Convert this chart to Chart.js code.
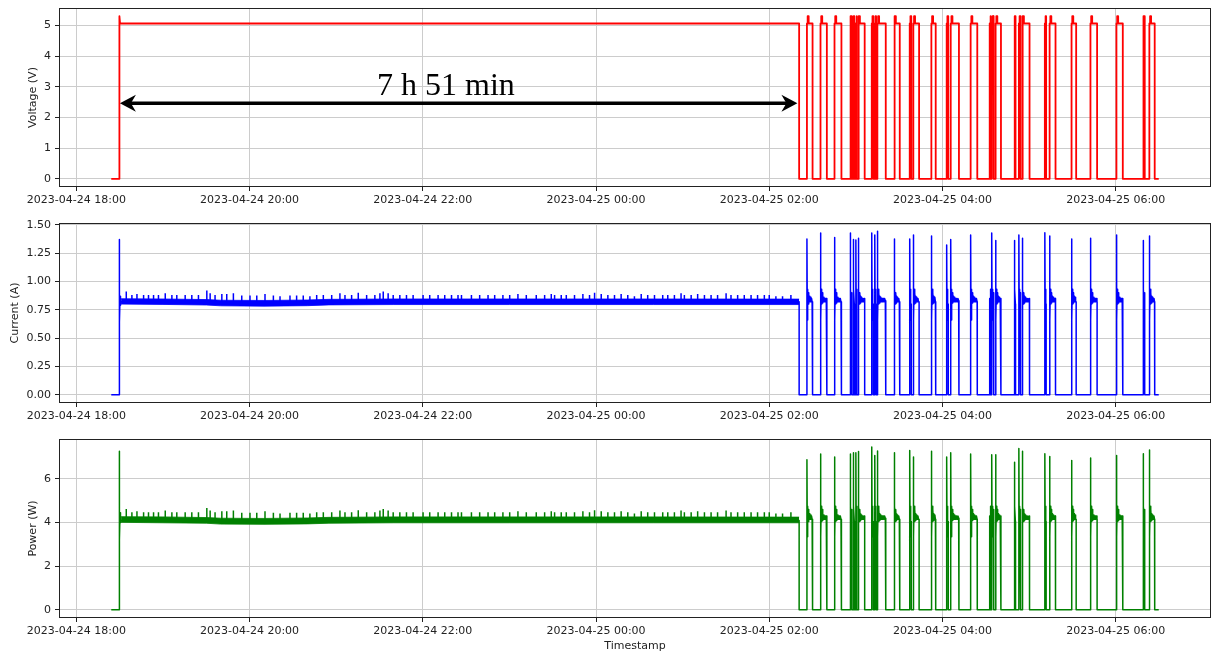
<!DOCTYPE html>
<html>
<head>
<meta charset="utf-8">
<script src="https://cdn.jsdelivr.net/npm/chart.js@4.4.0/dist/chart.umd.min.js"></script>
<style>
  html, body { margin: 0; padding: 0; background: #fff; }
  #wrap { position: relative; width: 1213px; height: 654px; overflow: hidden; }
  .panel { position: absolute; left: 0; width: 1213px; }
</style>
</head>
<body>
<div id="wrap">
  <div class="panel" style="top:0;height:210px"><canvas id="chartV"></canvas></div>
  <div class="panel" style="top:215px;height:210px"><canvas id="chartI"></canvas></div>
  <div class="panel" style="top:431px;height:223px"><canvas id="chartP"></canvas></div>
</div>
<script>
// x values are minutes after 2023-04-24 18:00
const tickMinutes = [0, 120, 240, 360, 480, 600, 720];
const tickLabels = ["2023-04-24 18:00", "2023-04-24 20:00", "2023-04-24 22:00",
  "2023-04-25 00:00", "2023-04-25 02:00", "2023-04-25 04:00", "2023-04-25 06:00"];

// switch-on at 18:30
const startupT = [24.2, 29.7, 29.7, 30.0, 30.3, 30.6, 31.0];
const startupV = [0, 0, 5.3, 5.3, 5.06, 5.06, 5.06];
const startupI = [0, 0, 1.37, 0.64, 0.87, 0.79, 0.82];
const startupP = [0, 0, 7.27, 3.22, 4.45, 4.0, 4.1];
const plateauEnd = 500.7; // 02:21
const logEnd = 749.8;

// noise band over the long plateau
const bandT   = [31, 60, 90, 100, 130, 160, 175, 220, 300, 400, 500.7];
const bandILo = [0.80, 0.797, 0.792, 0.785, 0.782, 0.786, 0.793, 0.796, 0.796, 0.796, 0.796];
const bandIHi = [0.847, 0.845, 0.84, 0.834, 0.832, 0.836, 0.842, 0.845, 0.845, 0.845, 0.844];
const bandPLo = [4.01, 3.99, 3.97, 3.93, 3.92, 3.94, 3.97, 3.99, 3.99, 3.99, 3.99];
const bandPHi = [4.27, 4.26, 4.23, 4.2, 4.19, 4.21, 4.24, 4.26, 4.26, 4.26, 4.25];

// small spikes on top of the plateau
const spikeT = [34.6, 38.5, 42.0, 46.6, 50.0, 53.5, 56.9, 61.6, 66.2, 69.6,
  75.4, 80.0, 84.6, 90.4, 92.7, 96.1, 100.8, 104.2, 108.8, 114.6,
  120.3, 125.0, 130.7, 136.5, 141.1, 148.0, 152.6, 157.2, 161.8, 166.5,
  171.1, 176.9, 182.6, 186.1, 190.7, 195.3, 201.1, 206.8, 210.3, 212.6,
  216.0, 219.5, 224.1, 228.7, 233.3, 240.2, 244.8, 250.6, 255.2, 259.9,
  264.4, 266.8, 273.7, 279.4, 285.2, 289.8, 295.5, 300.2, 305.9, 311.7,
  318.6, 324.4, 329.0, 331.3, 335.9, 339.4, 345.1, 350.9, 355.5, 359.0,
  363.6, 368.2, 372.8, 377.4, 382.0, 386.6, 391.3, 395.8, 400.5, 406.2,
  409.7, 414.3, 418.9, 421.2, 425.9, 430.4, 435.1, 439.7, 444.2, 450.1,
  453.5, 458.1, 462.7, 467.4, 471.9, 476.6, 480.0, 484.6, 489.2, 495.0];
const spikeI = [0.91, 0.88, 0.89, 0.88, 0.88, 0.88, 0.88, 0.895, 0.88, 0.88,
  0.88, 0.88, 0.88, 0.92, 0.895, 0.88, 0.89, 0.89, 0.895, 0.875,
  0.875, 0.875, 0.89, 0.875, 0.87, 0.875, 0.875, 0.875, 0.87, 0.88,
  0.88, 0.88, 0.895, 0.88, 0.88, 0.90, 0.88, 0.88, 0.895, 0.91,
  0.895, 0.88, 0.88, 0.88, 0.88, 0.88, 0.88, 0.88, 0.88, 0.88,
  0.88, 0.88, 0.88, 0.88, 0.88, 0.88, 0.88, 0.88, 0.89, 0.88,
  0.88, 0.88, 0.89, 0.88, 0.88, 0.88, 0.88, 0.89, 0.88, 0.90,
  0.89, 0.88, 0.88, 0.89, 0.88, 0.87, 0.89, 0.88, 0.88, 0.88,
  0.88, 0.88, 0.895, 0.88, 0.88, 0.89, 0.88, 0.88, 0.88, 0.895,
  0.88, 0.88, 0.88, 0.88, 0.88, 0.88, 0.88, 0.87, 0.87, 0.88];
const spikeP = [4.62, 4.47, 4.52, 4.47, 4.47, 4.47, 4.47, 4.55, 4.47, 4.47,
  4.47, 4.47, 4.47, 4.67, 4.55, 4.47, 4.52, 4.52, 4.55, 4.45,
  4.45, 4.45, 4.52, 4.45, 4.42, 4.45, 4.45, 4.45, 4.42, 4.47,
  4.47, 4.47, 4.55, 4.47, 4.47, 4.57, 4.47, 4.47, 4.55, 4.62,
  4.55, 4.47, 4.47, 4.47, 4.47, 4.47, 4.47, 4.47, 4.47, 4.47,
  4.47, 4.47, 4.47, 4.47, 4.47, 4.47, 4.47, 4.47, 4.52, 4.47,
  4.47, 4.47, 4.52, 4.47, 4.47, 4.47, 4.47, 4.52, 4.47, 4.57,
  4.52, 4.47, 4.47, 4.52, 4.47, 4.42, 4.52, 4.47, 4.47, 4.47,
  4.47, 4.47, 4.55, 4.47, 4.47, 4.52, 4.47, 4.47, 4.47, 4.55,
  4.47, 4.47, 4.47, 4.47, 4.47, 4.47, 4.47, 4.42, 4.42, 4.47];

// on/off cycles after 02:21
const pulseStart = [506.1, 515.5, 525.2, 536.0, 538.1, 540.0, 541.6, 551.0, 553.1, 554.9,
  566.5, 577.3, 579.8, 592.3, 602.9, 605.7, 619.5, 632.7, 634.1, 636.8,
  649.7, 652.9, 655.2, 670.9, 674.2, 689.4, 702.5, 720.5, 738.9, 743.3];
const pulseEnd = [510.0, 519.9, 530.0, 537.2, 539.0, 540.7, 546.1, 552.1, 554.0, 560.7,
  570.4, 578.4, 583.8, 595.3, 604.0, 611.4, 624.1, 633.4, 635.5, 640.5,
  650.6, 654.1, 660.3, 671.8, 678.3, 692.6, 707.1, 724.9, 740.1, 747.0];
const pulsePeakI = [1.375, 1.426, 1.387, 1.426, 1.37, 1.366, 1.38, 1.426, 1.41, 1.443,
  1.375, 1.375, 1.41, 1.40, 1.32, 1.37, 1.41, 0.85, 1.426, 1.36,
  1.36, 1.41, 1.38, 1.43, 1.40, 1.375, 1.38, 1.41, 1.36, 1.40];
const pulsePeakP = [6.88, 7.14, 7.0, 7.14, 7.2, 7.2, 7.26, 7.46, 7.07, 7.28,
  7.2, 7.3, 7.0, 7.27, 7.0, 7.2, 7.14, 4.3, 7.11, 7.11,
  6.76, 7.4, 7.27, 7.15, 7.03, 6.85, 6.96, 7.07, 7.15, 7.33];

// typical shape of one cycle after its first sample (minutes after switch-on)
const shapeDt = [0.25, 0.5, 0.8, 1.1, 1.4, 1.7, 2.0, 2.4, 2.8, 3.2, 3.6, 4.0, 4.5, 5.0, 5.5];
const shapeI  = [0.66, 0.93, 0.80, 0.90, 0.81, 0.87, 0.82, 0.86, 0.82, 0.85, 0.82, 0.85, 0.82, 0.85, 0.83];
const shapeP  = [3.35, 4.75, 4.05, 4.6, 4.1, 4.4, 4.15, 4.35, 4.15, 4.3, 4.15, 4.3, 4.15, 4.3, 4.2];
const vShapeDt = [0.5, 0.5, 1.2, 1.2];
const vShapeV  = [5.06, 5.3, 5.3, 5.06];
const vOn = 5.06;

// annotation
const arrowFrom = 30.2, arrowTo = 499.5, arrowV = 2.46;
const noteText = "7 h 51 min", noteT = 256, noteV = 2.73;

function trace(startY, plateauY, first, dts, ys) {
  const pts = startupT.map((t, i) => ({ x: t, y: startY[i] }));
  pts.push({ x: plateauEnd, y: plateauY }, { x: plateauEnd, y: 0 });
  pulseStart.forEach((s, k) => {
    const e = pulseEnd[k];
    const f = Array.isArray(first) ? first[k] : first;
    pts.push({ x: s, y: 0 }, { x: s, y: f });
    let last = f;
    dts.forEach((dt, j) => {
      if (s + dt < e) { pts.push({ x: s + dt, y: ys[j] }); last = ys[j]; }
    });
    pts.push({ x: e, y: last }, { x: e, y: 0 });
  });
  pts.push({ x: logEnd, y: 0 });
  return pts;
}

function spikes(base, peaks) {
  const pts = [];
  spikeT.forEach((t, i) => pts.push({ x: t, y: base }, { x: t, y: peaks[i] }, { x: t, y: base }));
  return pts;
}

function band(vals) {
  return bandT.map((t, i) => ({ x: t, y: vals[i] }));
}

Chart.defaults.font.family = "'DejaVu Sans', sans-serif";
Chart.defaults.font.size = 11;
Chart.defaults.color = "#222";

const frame = {
  id: "frame",
  afterDraw(chart) {
    const { ctx, chartArea: a } = chart;
    ctx.save();
    ctx.strokeStyle = "#222";
    ctx.lineWidth = 1;
    ctx.strokeRect(Math.round(a.left) + 0.5, Math.round(a.top) + 0.5,
      Math.round(a.right - a.left) - 1, Math.round(a.bottom - a.top) - 1);
    ctx.restore();
  }
};

const note = {
  id: "note",
  afterDatasetsDraw(chart) {
    const { ctx, scales: { x, y } } = chart;
    const x1 = x.getPixelForValue(arrowFrom), x2 = x.getPixelForValue(arrowTo);
    const ay = y.getPixelForValue(arrowV);
    const hl = 16, hw = 8.5;
    ctx.save();
    ctx.strokeStyle = "#000";
    ctx.fillStyle = "#000";
    ctx.lineWidth = 3.5;
    ctx.beginPath();
    ctx.moveTo(x1 + 10, ay);
    ctx.lineTo(x2 - 10, ay);
    ctx.stroke();
    [[x1, 1], [x2, -1]].forEach(([tx, d]) => {
      ctx.beginPath();
      ctx.moveTo(tx, ay);
      ctx.lineTo(tx + d * hl, ay - hw);
      ctx.lineTo(tx + d * (hl - 5), ay);
      ctx.lineTo(tx + d * hl, ay + hw);
      ctx.closePath();
      ctx.fill();
    });
    ctx.font = "32px 'Liberation Serif', 'Times New Roman', serif";
    ctx.textAlign = "center";
    ctx.textBaseline = "alphabetic";
    ctx.fillText(noteText, x.getPixelForValue(noteT), y.getPixelForValue(noteV));
    ctx.restore();
  }
};

function panel(id, cfg) {
  const line = (data, extra) => Object.assign({
    data, borderColor: cfg.color, backgroundColor: cfg.color, borderWidth: 1.5,
    pointRadius: 0, tension: 0, fill: false, borderJoinStyle: "round"
  }, extra || {});
  const datasets = [line(cfg.trace, { borderWidth: cfg.lw || 1.5 })];
  if (cfg.lo) {
    datasets.push(line(cfg.lo, { borderWidth: 0.8 }));
    datasets.push(line(cfg.hi, { borderWidth: 0.8, fill: "-1" }));
    datasets.push(line(cfg.spikes, { borderWidth: 1.5, borderJoinStyle: "miter" }));
  }
  return new Chart(document.getElementById(id), {
    type: "line",
    data: { datasets },
    plugins: cfg.note ? [frame, note] : [frame],
    options: {
      animation: false,
      responsive: true,
      maintainAspectRatio: false,
      parsing: false,
      normalized: true,
      layout: { padding: { top: 8, right: 2, left: 0, bottom: 0 } },
      plugins: { legend: { display: false }, tooltip: { enabled: false } },
      scales: {
        x: {
          type: "linear", min: -12, max: 786,
          afterBuildTicks: s => { s.ticks = tickMinutes.map(v => ({ value: v })); },
          afterFit: s => { s.height = cfg.xh; },
          ticks: {
            autoSkip: false, maxRotation: 0, padding: 3,
            callback: v => tickLabels[tickMinutes.indexOf(v)] || ""
          },
          grid: { color: "#cccccc", tickColor: "#222", tickLength: 4 },
          border: { display: false },
          title: cfg.xTitle
            ? { display: true, text: cfg.xTitle, padding: { top: 0, bottom: 1 } }
            : { display: false }
        },
        y: {
          type: "linear", min: cfg.min, max: cfg.max,
          afterFit: s => { s.width = 59; s.paddingTop = 0; s.paddingBottom = 0; },
          ticks: {
            stepSize: cfg.step, includeBounds: false, padding: 4,
            callback: v => cfg.fmt(v)
          },
          grid: { color: "#cccccc", tickColor: "#222", tickLength: 4 },
          border: { display: false },
          title: { display: true, text: cfg.title, padding: { top: cfg.titlePad, bottom: 0 } }
        }
      }
    }
  });
}

panel("chartV", {
  color: "#ff0000", title: "Voltage (V)", titlePad: 27, xh: 23, lw: 1.8,
  min: -0.265, max: 5.565, step: 1, fmt: v => String(Math.round(v)),
  trace: trace(startupV, vOn, vOn, vShapeDt, vShapeV),
  note: true
});

panel("chartI", {
  color: "#0000ff", title: "Current (A)", titlePad: 9, xh: 22,
  min: -0.072, max: 1.515, step: 0.25, fmt: v => v.toFixed(2),
  trace: trace(startupI, 0.82, pulsePeakI, shapeDt, shapeI),
  lo: band(bandILo), hi: band(bandIHi), spikes: spikes(0.815, spikeI)
});

panel("chartP", {
  color: "#008000", title: "Power (W)", titlePad: 27, xh: 36, xTitle: "Timestamp",
  min: -0.373, max: 7.83, step: 2, fmt: v => String(Math.round(v)),
  trace: trace(startupP, 4.1, pulsePeakP, shapeDt, shapeP),
  lo: band(bandPLo), hi: band(bandPHi), spikes: spikes(4.12, spikeP)
});
</script>
</body>
</html>
